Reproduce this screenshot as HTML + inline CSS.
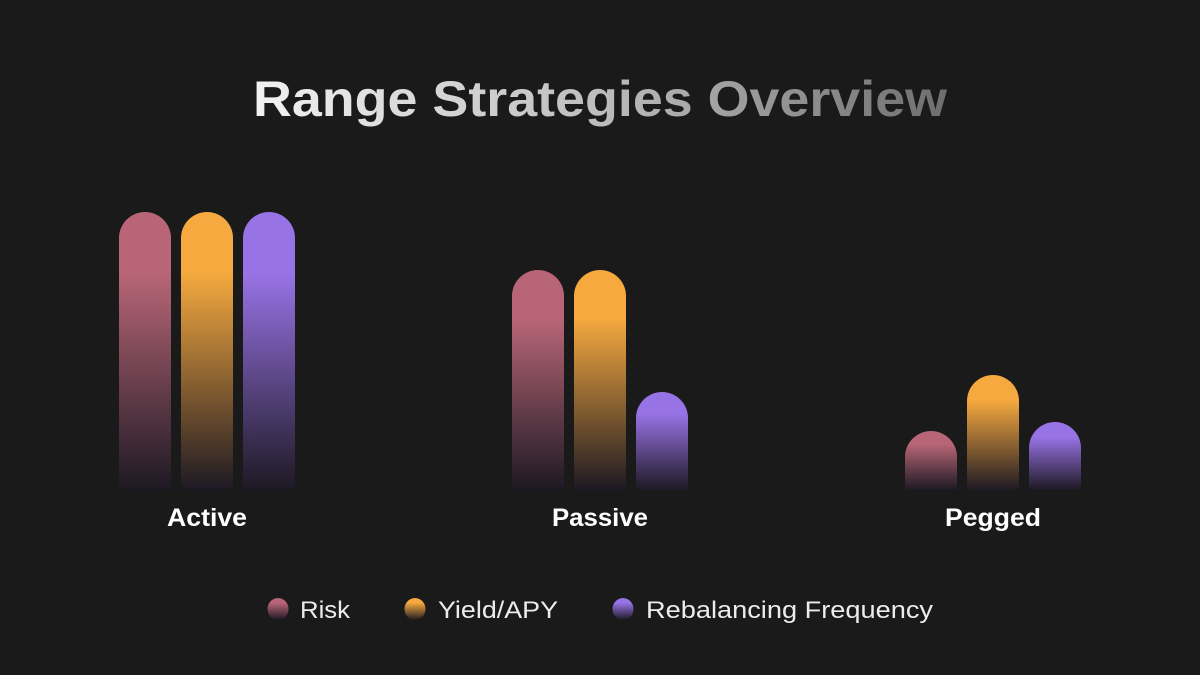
<!DOCTYPE html>
<html><head><meta charset="utf-8"><style>
html,body{margin:0;padding:0;background:#1a1a1a;}
svg{display:block;font-family:"Liberation Sans",sans-serif;}
</style></head><body>
<svg width="1200" height="675" viewBox="0 0 1200 675" xmlns="http://www.w3.org/2000/svg">
<defs>
<linearGradient id="tg" x1="253" y1="0" x2="947" y2="0" gradientUnits="userSpaceOnUse">
<stop offset="0" stop-color="#f2f2f2"/><stop offset="0.5" stop-color="#bdbdbd"/><stop offset="1" stop-color="#6e6e6e"/></linearGradient>
<linearGradient id="gr" x1="0" y1="0" x2="0" y2="1"><stop offset="0" stop-color="#b86677"/><stop offset="0.22" stop-color="#b86677"/><stop offset="1" stop-color="#1d1923"/></linearGradient>
<linearGradient id="gy" x1="0" y1="0" x2="0" y2="1"><stop offset="0" stop-color="#f5a93f"/><stop offset="0.22" stop-color="#f5a93f"/><stop offset="1" stop-color="#1d1923"/></linearGradient>
<linearGradient id="gp" x1="0" y1="0" x2="0" y2="1"><stop offset="0" stop-color="#9873e6"/><stop offset="0.22" stop-color="#9873e6"/><stop offset="1" stop-color="#1d1923"/></linearGradient>
</defs>
<rect width="1200" height="675" fill="#1a1a1a"/>
<text x="600" y="116" text-anchor="middle" font-size="50" font-weight="bold" fill="url(#tg)" textLength="694" lengthAdjust="spacingAndGlyphs">Range Strategies Overview</text>
<g>
<path d="M119 490V238a26 26 0 0 1 52 0V490Z" fill="url(#gr)"/>
<path d="M181 490V238a26 26 0 0 1 52 0V490Z" fill="url(#gy)"/>
<path d="M243 490V238a26 26 0 0 1 52 0V490Z" fill="url(#gp)"/>
<path d="M512 490V296a26 26 0 0 1 52 0V490Z" fill="url(#gr)"/>
<path d="M574 490V296a26 26 0 0 1 52 0V490Z" fill="url(#gy)"/>
<path d="M636 490V418a26 26 0 0 1 52 0V490Z" fill="url(#gp)"/>
<path d="M905 490V457a26 26 0 0 1 52 0V490Z" fill="url(#gr)"/>
<path d="M967 490V401a26 26 0 0 1 52 0V490Z" fill="url(#gy)"/>
<path d="M1029 490V448a26 26 0 0 1 52 0V490Z" fill="url(#gp)"/>
</g>
<g font-size="25" font-weight="bold" fill="#ffffff" text-anchor="middle">
<text x="207" y="526" textLength="80" lengthAdjust="spacingAndGlyphs">Active</text>
<text x="600" y="526" textLength="96" lengthAdjust="spacingAndGlyphs">Passive</text>
<text x="993" y="526" textLength="96" lengthAdjust="spacingAndGlyphs">Pegged</text>
</g>
<g>
<ellipse cx="278" cy="609" rx="10.5" ry="11" fill="url(#gr)"/>
<ellipse cx="415" cy="609" rx="10.5" ry="11" fill="url(#gy)"/>
<ellipse cx="623" cy="609" rx="10.5" ry="11" fill="url(#gp)"/>
</g>
<g font-size="24" fill="#ececec">
<text x="300" y="618" textLength="50" lengthAdjust="spacingAndGlyphs">Risk</text>
<text x="438" y="618" textLength="120" lengthAdjust="spacingAndGlyphs">Yield/APY</text>
<text x="646" y="618" textLength="287" lengthAdjust="spacingAndGlyphs">Rebalancing Frequency</text>
</g>
</svg>
</body></html>
